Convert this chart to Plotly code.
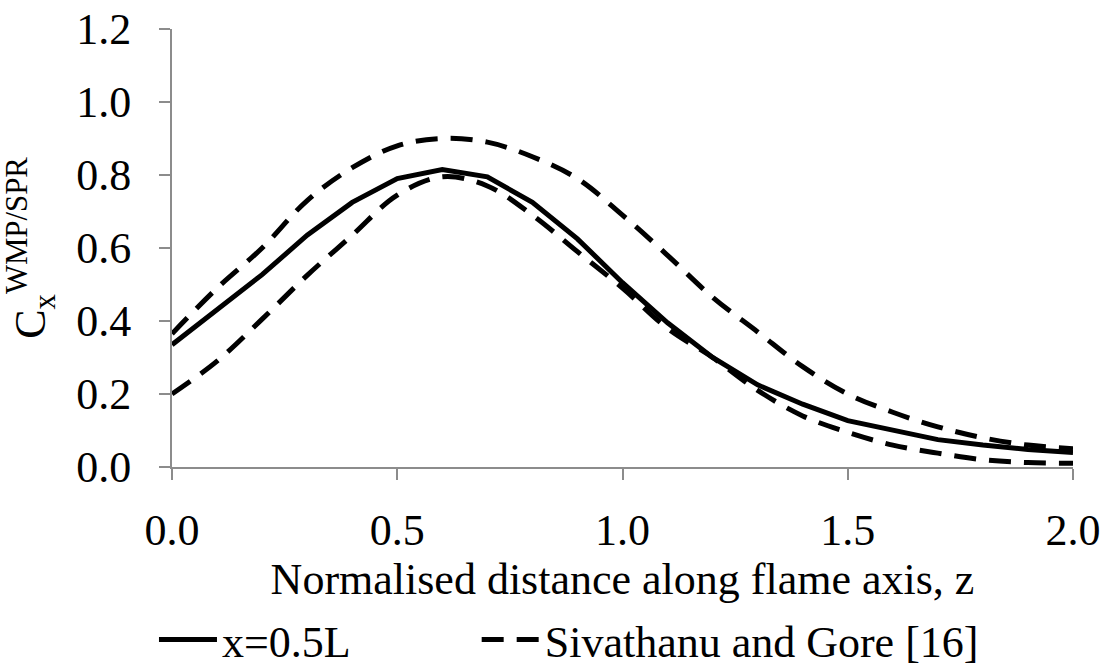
import plotly.graph_objects as go

z = [0.0, 0.1, 0.2, 0.3, 0.4, 0.5, 0.6, 0.7, 0.8, 0.9, 1.0,
     1.1, 1.2, 1.3, 1.4, 1.5, 1.6, 1.7, 1.8, 1.9, 2.0]

x_half_L = [0.335, 0.43, 0.527, 0.635, 0.725, 0.79, 0.815, 0.795, 0.725, 0.625, 0.505,
            0.395, 0.30, 0.225, 0.172, 0.127, 0.10, 0.075, 0.06, 0.048, 0.04]

sivathanu_upper = [0.365, 0.49, 0.60, 0.73, 0.82, 0.88, 0.90, 0.89, 0.85, 0.79, 0.69,
                   0.58, 0.465, 0.37, 0.275, 0.20, 0.15, 0.11, 0.08, 0.06, 0.05]

sivathanu_lower = [0.20, 0.29, 0.405, 0.525, 0.635, 0.745, 0.795, 0.77, 0.69, 0.59, 0.49,
                   0.38, 0.30, 0.21, 0.14, 0.095, 0.06, 0.038, 0.02, 0.012, 0.01]

x_ticks = [0.0, 0.5, 1.0, 1.5, 2.0]
y_ticks = [0.0, 0.2, 0.4, 0.6, 0.8, 1.0, 1.2]

FONT = "Liberation Serif"
FS = 44
DASH = "22px,13px"
NB = "\u00a0"

fig = go.Figure()
fig.add_trace(go.Scatter(x=z, y=x_half_L, mode="lines", name="x=0.5L" + NB * 11,
                         line=dict(color="black", width=5)))
fig.add_trace(go.Scatter(x=z, y=sivathanu_upper, mode="lines", name="Sivathanu and Gore [16]",
                         line=dict(color="black", width=5, dash=DASH, shape="spline")))
fig.add_trace(go.Scatter(x=z, y=sivathanu_lower, mode="lines", name="Sivathanu and Gore [16]",
                         showlegend=False,
                         line=dict(color="black", width=5, dash=DASH, shape="spline")))

axis_common = dict(showgrid=False, zeroline=False, showline=True, linecolor="#8c8c8c",
                   linewidth=2, ticks="outside", tickcolor="#8c8c8c", ticklen=11, tickwidth=2,
                   automargin=False,
                   tickfont=dict(family=FONT, size=FS, color="black"))

fig.update_xaxes(range=[0, 2.0], tickvals=x_ticks, ticktext=[f"{v:.1f}" for v in x_ticks],
                 ticklabelstandoff=12,
                 title=dict(text="Normalised distance along flame axis, z",
                            font=dict(family=FONT, size=FS, color="black"), standoff=4),
                 **axis_common)
fig.update_yaxes(range=[0, 1.2], tickvals=y_ticks, ticktext=[f"{v:.1f}" for v in y_ticks],
                 ticklabelstandoff=19,
                 title=dict(text="C<sub>x</sub><sup>WMP/SPR</sup>",
                            font=dict(family=FONT, size=FS, color="black"), standoff=20),
                 **axis_common)

fig.update_layout(
    width=1107, height=668,
    margin=dict(l=172, r=34, t=29, b=201, autoexpand=False),
    paper_bgcolor="white", plot_bgcolor="white",
    font=dict(family=FONT, size=FS, color="black"),
    showlegend=True,
    legend=dict(orientation="h", x=-0.02, xanchor="left", y=-0.395, yanchor="middle",
                itemwidth=58,
                font=dict(family=FONT, size=FS, color="black"),
                bgcolor="rgba(0,0,0,0)"),
)

fig.write_html("out.html")
